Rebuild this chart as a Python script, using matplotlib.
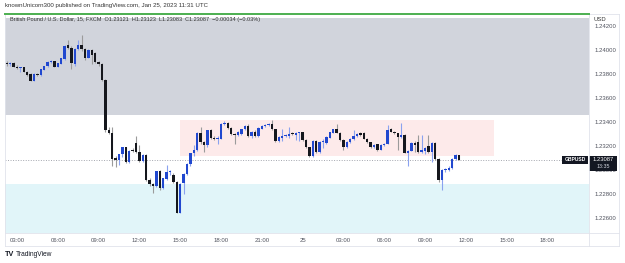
import matplotlib
matplotlib.use("Agg")
import matplotlib.pyplot as plt
import matplotlib.dates as mdates
import pandas as pd
import numpy as np
from matplotlib.patches import Rectangle
from matplotlib.lines import Line2D
from matplotlib.transforms import blended_transform_factory

plt.rcParams['font.family'] = ['Liberation Sans', 'DejaVu Sans']

# ---------------- data (GBPUSD 15 min, FXCM) ----------------
start_time = '2023-01-24 02:15'
opens = [
    1.23890, 1.23880, 1.23890, 1.23860, 1.23850, 1.23855, 1.23820, 1.23800, 1.23745, 1.23800,
    1.23790, 1.23835, 1.23865, 1.23900, 1.23905, 1.23860, 1.23885, 1.23925, 1.24045, 1.24020,
    1.23885, 1.24005, 1.24045, 1.24005, 1.23935, 1.24000, 1.23975, 1.23900, 1.23880, 1.23750,
    1.23333, 1.23310, 1.23100, 1.23085, 1.23130, 1.23190, 1.23065, 1.23165, 1.23225, 1.23150,
    1.23075, 1.23125, 1.22920, 1.22880, 1.22870, 1.22990, 1.22850, 1.22925, 1.22980, 1.22960,
    1.22900, 1.22645, 1.22890, 1.22970, 1.23050, 1.23145, 1.23170, 1.23310, 1.23230, 1.23210,
    1.23330, 1.23270, 1.23255, 1.23260, 1.23385, 1.23395, 1.23350, 1.23300, 1.23290, 1.23300,
    1.23340, 1.23370, 1.23280, 1.23320, 1.23280, 1.23345, 1.23365, 1.23375, 1.23385, 1.23340,
    1.23245, 1.23270, 1.23285, 1.23285, 1.23310, 1.23295, 1.23305, 1.23315, 1.23250, 1.23190,
    1.23120, 1.23245, 1.23150, 1.23235, 1.23225, 1.23270, 1.23310, 1.23340, 1.23310, 1.23250,
    1.23190, 1.23230, 1.23255, 1.23280, 1.23305, 1.23310, 1.23260, 1.23230, 1.23190, 1.23215,
    1.23170, 1.23210, 1.23220, 1.23340, 1.23320, 1.23305, 1.23275, 1.23295, 1.23145, 1.23160,
    1.23225, 1.23230, 1.23150, 1.23160, 1.23200, 1.23150, 1.23225, 1.23095, 1.22915, 1.23000,
    1.23000, 1.23020, 1.23090, 1.23121]
highs = [
    1.23905, 1.23900, 1.23900, 1.23875, 1.23860, 1.23860, 1.23825, 1.23810, 1.23810, 1.23810,
    1.23845, 1.23870, 1.23905, 1.23915, 1.23910, 1.23895, 1.23935, 1.24040, 1.24085, 1.24030,
    1.24015, 1.24080, 1.24125, 1.24020, 1.24005, 1.24010, 1.23985, 1.23910, 1.23890, 1.23755,
    1.23360, 1.23360, 1.23120, 1.23135, 1.23195, 1.23195, 1.23170, 1.23185, 1.23285, 1.23210,
    1.23135, 1.23130, 1.22930, 1.22890, 1.22995, 1.23000, 1.22935, 1.23040, 1.23000, 1.22975,
    1.22910, 1.22890, 1.22975, 1.23055, 1.23145, 1.23210, 1.23315, 1.23360, 1.23245, 1.23335,
    1.23340, 1.23280, 1.23280, 1.23390, 1.23405, 1.23400, 1.23355, 1.23305, 1.23325, 1.23345,
    1.23375, 1.23385, 1.23325, 1.23330, 1.23355, 1.23375, 1.23380, 1.23390, 1.23420, 1.23345,
    1.23280, 1.23340, 1.23300, 1.23355, 1.23320, 1.23315, 1.23320, 1.23320, 1.23255, 1.23195,
    1.23250, 1.23250, 1.23245, 1.23260, 1.23280, 1.23320, 1.23345, 1.23380, 1.23315, 1.23255,
    1.23240, 1.23265, 1.23330, 1.23310, 1.23315, 1.23320, 1.23265, 1.23235, 1.23215, 1.23220,
    1.23215, 1.23225, 1.23375, 1.23350, 1.23325, 1.23310, 1.23390, 1.23300, 1.23170, 1.23230,
    1.23245, 1.23290, 1.23290, 1.23195, 1.23290, 1.23235, 1.23230, 1.23100, 1.23010, 1.23015,
    1.23030, 1.23100, 1.23130, 1.23123]
lows = [
    1.23870, 1.23870, 1.23855, 1.23840, 1.23815, 1.23815, 1.23780, 1.23740, 1.23740, 1.23780,
    1.23785, 1.23830, 1.23860, 1.23890, 1.23855, 1.23855, 1.23880, 1.23920, 1.24010, 1.23840,
    1.23870, 1.24000, 1.23990, 1.23920, 1.23930, 1.23880, 1.23890, 1.23870, 1.23740, 1.23320,
    1.23300, 1.23030, 1.23025, 1.23040, 1.23110, 1.23060, 1.23060, 1.23150, 1.23140, 1.23070,
    1.23065, 1.22910, 1.22870, 1.22810, 1.22860, 1.22830, 1.22840, 1.22920, 1.22960, 1.22890,
    1.22640, 1.22640, 1.22800, 1.22960, 1.23030, 1.23120, 1.23160, 1.23220, 1.23150, 1.23195,
    1.23255, 1.23250, 1.23220, 1.23255, 1.23375, 1.23345, 1.23295, 1.23220, 1.23285, 1.23295,
    1.23335, 1.23275, 1.23270, 1.23275, 1.23275, 1.23340, 1.23355, 1.23370, 1.23330, 1.23235,
    1.23235, 1.23245, 1.23275, 1.23265, 1.23295, 1.23250, 1.23245, 1.23245, 1.23185, 1.23110,
    1.23110, 1.23140, 1.23140, 1.23180, 1.23220, 1.23265, 1.23305, 1.23305, 1.23245, 1.23170,
    1.23180, 1.23225, 1.23250, 1.23275, 1.23285, 1.23255, 1.23225, 1.23185, 1.23180, 1.23160,
    1.23165, 1.23200, 1.23215, 1.23315, 1.23300, 1.23165, 1.23270, 1.23140, 1.23030, 1.23155,
    1.23150, 1.23140, 1.23140, 1.23130, 1.23140, 1.23065, 1.23085, 1.22900, 1.22835, 1.22980,
    1.22990, 1.23010, 1.23085, 1.23083]
closes = [
    1.23880, 1.23890, 1.23860, 1.23850, 1.23855, 1.23820, 1.23790, 1.23745, 1.23800, 1.23790,
    1.23840, 1.23865, 1.23900, 1.23905, 1.23860, 1.23890, 1.23930, 1.24030, 1.24020, 1.23890,
    1.24010, 1.24040, 1.24005, 1.23935, 1.24000, 1.23960, 1.23900, 1.23880, 1.23750, 1.23333,
    1.23310, 1.23090, 1.23085, 1.23130, 1.23190, 1.23065, 1.23160, 1.23155, 1.23150, 1.23075,
    1.23125, 1.22920, 1.22880, 1.22870, 1.22990, 1.22850, 1.22930, 1.22980, 1.22990, 1.22900,
    1.22645, 1.22880, 1.22970, 1.23050, 1.23140, 1.23170, 1.23310, 1.23230, 1.23210, 1.23330,
    1.23270, 1.23260, 1.23270, 1.23380, 1.23395, 1.23350, 1.23300, 1.23290, 1.23320, 1.23340,
    1.23370, 1.23280, 1.23320, 1.23280, 1.23350, 1.23370, 1.23375, 1.23385, 1.23340, 1.23245,
    1.23275, 1.23285, 1.23295, 1.23300, 1.23300, 1.23310, 1.23315, 1.23250, 1.23190, 1.23120,
    1.23245, 1.23150, 1.23235, 1.23240, 1.23275, 1.23315, 1.23340, 1.23310, 1.23250, 1.23190,
    1.23230, 1.23260, 1.23280, 1.23300, 1.23295, 1.23260, 1.23230, 1.23190, 1.23205, 1.23170,
    1.23210, 1.23220, 1.23335, 1.23320, 1.23305, 1.23275, 1.23295, 1.23145, 1.23160, 1.23225,
    1.23210, 1.23150, 1.23165, 1.23185, 1.23150, 1.23225, 1.23095, 1.22915, 1.23000, 1.23005,
    1.23020, 1.23090, 1.23121, 1.23087]

last_price = 1.23087
last_label = "1.23087"
countdown = "13:35"
symbol = "GBPUSD"
y_ticks = [1.22600, 1.22800, 1.23000, 1.23200, 1.23400, 1.23600, 1.23800, 1.24000, 1.24200]

# zones
gray_zone = (1.23458, 1.242625)
cyan_zone_top = 1.22883
pink_box_time = ('2023-01-24 15:00', '2023-01-25 14:04')
pink_box_price = (1.23117, 1.23417)

title = "knownUnicorn300 published on TradingView.com, Jan 25, 2023 11:31 UTC"
header = ("British Pound / U.S. Dollar, 15, FXCM  O1.23121  H1.23123  "
          "L1.23083  C1.23087  \u22120.00034 (\u22120.03%)")

# ---------------- layout ----------------
W, H = 625, 263
fig = plt.figure(figsize=(W / 100, H / 100), dpi=100)
fig.patch.set_facecolor('white')

def fx(p):
    return p / W

def fy(p):
    return 1 - p / H

L, R, T, B = 5, 589, 14, 233
ax = fig.add_axes([fx(L), fy(B), fx(R) - fx(L), fy(T) - fy(B)])

times = pd.date_range(start_time, periods=len(closes), freq='15min')
x = mdates.date2num(times.to_pydatetime())
bar = 1 / 96.0
t_ref = mdates.date2num(pd.Timestamp('2023-01-24 03:00').to_pydatetime())
pxbar = 3.4
ax.set_xlim(t_ref - (17 - L) / pxbar * bar, t_ref + (R - 17) / pxbar * bar)
ax.set_ylim(1.23400 - (B - 122) / 12000, 1.23400 + (122 - T) / 12000)

# zones
ax.axhspan(gray_zone[0], gray_zone[1], color='#d1d4dc', lw=0, zorder=0)
ax.axhspan(ax.get_ylim()[0], cyan_zone_top, color='#e1f5f9', lw=0, zorder=0)
p0 = mdates.date2num(pd.Timestamp(pink_box_time[0]).to_pydatetime())
p1 = mdates.date2num(pd.Timestamp(pink_box_time[1]).to_pydatetime())
ax.add_patch(Rectangle((p0, pink_box_price[0]), p1 - p0, pink_box_price[1] - pink_box_price[0],
                       facecolor='#fdeaea', edgecolor='none', zorder=0))

# last-price dotted line
ax.axhline(last_price, color='#a3a6ae', lw=0.7, ls=(0, (1.0, 1.6)), zorder=1)

# candles
o = np.array(opens); h = np.array(highs); l = np.array(lows); c = np.array(closes)
up = c >= o
up_body, up_wick = '#2148cf', '#8aa2ef'
dn_body, dn_wick = '#15171d', '#9b9b9b'
ax.vlines(x[up], l[up], h[up], color=up_wick, lw=0.8, zorder=2)
ax.vlines(x[~up], l[~up], h[~up], color=dn_wick, lw=0.8, zorder=2)
body_h = np.maximum(np.abs(c - o), 0.00004)
body_b = np.minimum(o, c)
w = bar * 0.76
ax.bar(x[up], body_h[up], bottom=body_b[up], width=w, color=up_body, lw=0, zorder=3)
ax.bar(x[~up], body_h[~up], bottom=body_b[~up], width=w, color=dn_body, lw=0, zorder=3)

# axes styling
for s in ax.spines.values():
    s.set_visible(False)
xt = pd.date_range('2023-01-24 03:00', '2023-01-25 18:00', freq='3h')
ax.set_xticks(mdates.date2num(xt.to_pydatetime()))

def tfmt(v, pos):
    d = mdates.num2date(v)
    return str(d.day) if d.hour == 0 and d.minute == 0 else d.strftime('%H:%M')

ax.xaxis.set_major_formatter(plt.FuncFormatter(tfmt))
ax.yaxis.tick_right()
ax.set_yticks(y_ticks)
ax.yaxis.set_major_formatter(plt.FuncFormatter(lambda v, p: f"{v:.5f}"))
ax.tick_params(axis='x', length=0, pad=3.5, labelsize=4.3, labelcolor='#50535e')
ax.tick_params(axis='y', length=0, pad=4, labelsize=4.3, labelcolor='#50535e')

# GBPUSD label + price box
tr = blended_transform_factory(ax.transAxes, ax.transData)
pxp = 1 / 12000
ax.add_patch(Rectangle(((562 - L) / (R - L), last_price - 4 * pxp), 26 / (R - L), 8 * pxp,
                       transform=tr, facecolor='#131722', edgecolor='none', zorder=5, clip_on=False))
ax.text((575 - L) / (R - L), last_price, symbol, transform=tr, ha='center', va='center',
        color='white', fontsize=3.6, fontweight='bold', zorder=6)
ax.add_patch(Rectangle((1.0, last_price - 11 * pxp), 28 / (R - L), 15 * pxp, transform=tr,
                       facecolor='#131722', edgecolor='none', zorder=5, clip_on=False))
ax.text((603 - L) / (R - L), last_price, last_label, transform=tr, ha='center', va='center',
        color='white', fontsize=4.2, zorder=6, clip_on=False)
ax.text((603 - L) / (R - L), last_price - 7 * pxp, countdown, transform=tr, ha='center',
        va='center', color='#d1d4dc', fontsize=3.8, zorder=6, clip_on=False)

# frame lines
fr = '#e0e3eb'
fig.add_artist(Line2D([fx(L), fx(L)], [fy(T), fy(246)], color=fr, lw=0.6))
fig.add_artist(Line2D([fx(619), fx(619)], [fy(T), fy(246)], color=fr, lw=0.6))
fig.add_artist(Line2D([fx(L), fx(619)], [fy(246), fy(246)], color=fr, lw=0.6))
fig.add_artist(Line2D([fx(L), fx(619)], [fy(B), fy(B)], color=fr, lw=0.6))
fig.add_artist(Line2D([fx(R), fx(R)], [fy(T), fy(246)], color=fr, lw=0.6))
fig.add_artist(Line2D([fx(R), fx(619)], [fy(T), fy(T)], color=fr, lw=0.6))
fig.add_artist(Line2D([fx(L), fx(R)], [fy(T), fy(T)], color='#4caf50', lw=1.4))

# texts
fig.text(fx(5), fy(6), title, fontsize=4.4, color='#333333', va='center', ha='left')
fig.text(fx(10), fy(19), header, fontsize=4.0, color='#333333', va='center', ha='left')
fig.text(fx(593), fy(19.5), "USD", fontsize=4.2, color='#333333', va='center', ha='left')
fig.text(fx(5), fy(254), "TV", fontsize=5.2, color='#131722', va='center', ha='left',
         fontweight='bold')
fig.text(fx(15.5), fy(254), "TradingView", fontsize=4.8, color='#131722', va='center', ha='left')

fig.savefig('out.png', dpi=100, facecolor='white')
